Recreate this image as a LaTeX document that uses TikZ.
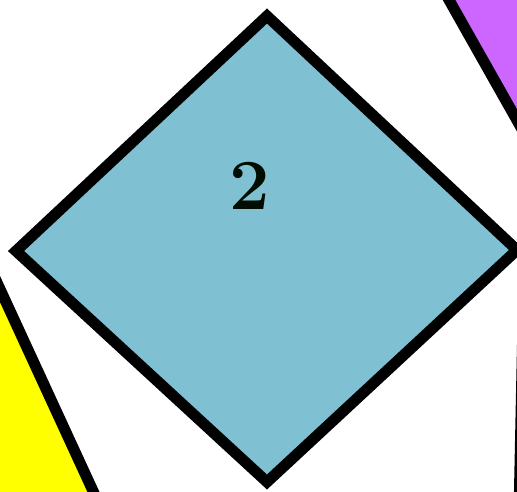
\documentclass[tikz,border=0pt]{standalone}
\usepackage{xcolor}
\usepackage{tikz}
\definecolor{tilecolor}{HTML}{7FC1D3}
\definecolor{wedgecolor}{HTML}{FFFF00}
\definecolor{shardcolor}{HTML}{CC66FF}

\begin{document}
\begin{tikzpicture}[x=1pt, y=-1pt,
  piece/.style={draw=black, line width=11pt, line join=miter},
  digit/.style={font=\fontsize{72}{72}\selectfont\bfseries, text=black!95!green}]

  \useasboundingbox (0,0) rectangle (517,491);
  \begin{scope}
  \clip (0,0) rectangle (517,491);

  % Neighbour pieces
  \draw[piece, fill=wedgecolor] (-18,250) -- (111,530) -- (-60,530) -- cycle;
  \draw[piece, fill=shardcolor] (440,-16) -- (562,200) -- (600,-16) -- cycle;
  \draw[piece] (522.8,330) -- (519.3,500);

  % Diamond
  \coordinate (top) at (267,16);
  \coordinate (right) at (517,250);
  \coordinate (bottom) at (267,482);
  \coordinate (left) at (16,251);
  \draw[piece, fill=tilecolor] (top) -- (right) -- (bottom) -- (left) -- cycle;
  \end{scope}

  \node[digit] (num) at (250,186) {2};

\end{tikzpicture}
\end{document}
